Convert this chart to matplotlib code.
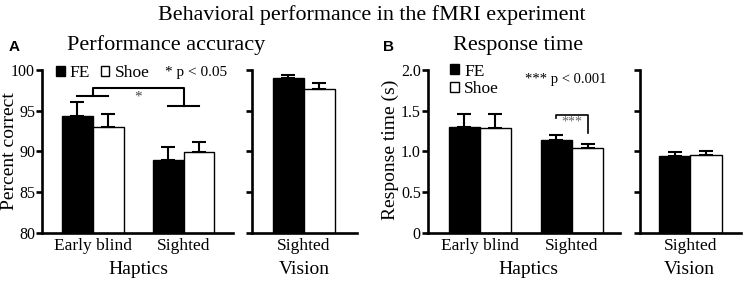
import matplotlib
matplotlib.use("Agg")
import matplotlib.pyplot as plt
from matplotlib.patches import Patch
import numpy as np

plt.rcParams['font.family'] = ['Liberation Serif', 'DejaVu Serif']

# data
haptic_groups = ['Early blind', 'Sighted']
vision_groups = ['Sighted']

acc_fe = [94.3, 89.0]
acc_fe_err = [1.8, 1.6]
acc_shoe = [93.05, 89.9]
acc_shoe_err = [1.55, 1.2]
acc_vis_fe = [98.95]
acc_vis_fe_err = [0.45]
acc_vis_shoe = [97.7]
acc_vis_shoe_err = [0.7]

rt_fe = [1.305, 1.138]
rt_fe_err = [0.153, 0.065]
rt_shoe = [1.286, 1.04]
rt_shoe_err = [0.172, 0.056]
rt_vis_fe = [0.945]
rt_vis_fe_err = [0.045]
rt_vis_shoe = [0.96]
rt_vis_shoe_err = [0.05]

acc_ticks = [80, 85, 90, 95, 100]
acc_ticklabels = ['80', '85', '90', '95', '100']
rt_ticks = [0, 0.5, 1.0, 1.5, 2.0]
rt_ticklabels = ['0', '0.5', '1.0', '1.5', '2.0']

W = 0.34


def style_axes(ax, ylim, ticks, labels, show_labels):
    for s in ['top', 'right']:
        ax.spines[s].set_visible(False)
    for s in ['left', 'bottom']:
        ax.spines[s].set_linewidth(1.9)
    ax.set_ylim(*ylim)
    ax.set_yticks(ticks)
    if show_labels:
        ax.set_yticklabels(labels, fontsize=11.5)
    else:
        ax.set_yticklabels([])
    ax.tick_params(axis='y', direction='out', length=4, width=1.9, pad=1)
    ax.tick_params(axis='x', length=0, labelsize=12.5, pad=4)


def draw_bars(ax, groups, fe, fe_err, shoe, shoe_err):
    x = np.arange(len(groups))
    ax.bar(x - W / 2, fe, W, color='black', edgecolor='black', linewidth=1)
    ax.bar(x + W / 2, shoe, W, color='white', edgecolor='black', linewidth=1)
    ax.errorbar(x - W / 2, fe, yerr=[np.zeros(len(x)), fe_err], fmt='none',
                ecolor='black', elinewidth=1.5, capsize=5, capthick=1.5)
    ax.errorbar(x + W / 2, shoe, yerr=[np.zeros(len(x)), shoe_err], fmt='none',
                ecolor='black', elinewidth=1.5, capsize=5, capthick=1.5)
    ax.set_xticks(x)
    ax.set_xticklabels(groups)


fig = plt.figure(figsize=(7.44, 2.83), dpi=100)

bot, hgt = 0.177, 0.576
axA = fig.add_axes([0.0565, bot, 0.256, hgt])
axAv = fig.add_axes([0.3387, bot, 0.141, hgt])
axB = fig.add_axes([0.575, bot, 0.258, hgt])
axBv = fig.add_axes([0.860, bot, 0.136, hgt])

# Panel A
draw_bars(axA, haptic_groups, acc_fe, acc_fe_err, acc_shoe, acc_shoe_err)
style_axes(axA, (80, 100), acc_ticks, acc_ticklabels, True)
axA.set_xlim(-0.56, 1.54)
draw_bars(axAv, vision_groups, acc_vis_fe, acc_vis_fe_err, acc_vis_shoe, acc_vis_shoe_err)
style_axes(axAv, (80, 100), acc_ticks, acc_ticklabels, False)
axAv.set_xlim(-0.57, 0.58)

# significance bracket A
axA.plot([0, 0, 1, 1], [96.85, 97.75, 97.75, 95.6], color='black', lw=1.5,
         clip_on=False)
axA.plot([-W / 2, W / 2], [96.85, 96.85], color='black', lw=1.5, clip_on=False)
axA.plot([1 - W / 2, 1 + W / 2], [95.6, 95.6], color='black', lw=1.5, clip_on=False)
axA.text(0.5, 96.7, '*', ha='center', va='center', fontsize=11, color='#444444')

leg_kw = dict(frameon=False, fontsize=12.5, handlelength=0.5, handleheight=0.5,
              handletextpad=0.3, borderpad=0.2, borderaxespad=0)
axA.legend(handles=[Patch(facecolor='black', edgecolor='black', label='FE'),
                    Patch(facecolor='white', edgecolor='black', label='Shoe')],
           loc='upper left', bbox_to_anchor=(0.055, 1.05), ncol=2,
           columnspacing=0.6, **leg_kw)
axA.text(0.645, 0.985, '* p < 0.05', transform=axA.transAxes, fontsize=11,
         ha='left', va='center')

# Panel B
draw_bars(axB, haptic_groups, rt_fe, rt_fe_err, rt_shoe, rt_shoe_err)
style_axes(axB, (0, 2.0), rt_ticks, rt_ticklabels, True)
axB.set_xlim(-0.565, 1.52)
draw_bars(axBv, vision_groups, rt_vis_fe, rt_vis_fe_err, rt_vis_shoe, rt_vis_shoe_err)
style_axes(axBv, (0, 2.0), rt_ticks, rt_ticklabels, False)
axBv.set_xlim(-0.55, 0.55)

axB.plot([1 - W / 2, 1 - W / 2, 1 + W / 2, 1 + W / 2], [1.41, 1.45, 1.45, 1.22],
         color='black', lw=1.2)
axB.text(1.0, 1.36, '***', ha='center', va='center', fontsize=10, color='#666666')

axB.legend(handles=[Patch(facecolor='black', edgecolor='black', label='FE'),
                    Patch(facecolor='white', edgecolor='black', label='Shoe')],
           loc='upper left', bbox_to_anchor=(0.1, 1.06), ncol=1,
           labelspacing=0.1, **leg_kw)
axB.text(0.505, 0.94, '*** p < 0.001', transform=axB.transAxes, fontsize=10.5,
         ha='left', va='center')

# y labels placed by hand so they sit at the figure edge like the original
fig.text(0.002, 0.466, 'Percent correct', rotation=90, ha='left', va='center',
         fontsize=14)
fig.text(0.5125, 0.47, 'Response time (s)', rotation=90, ha='left', va='center',
         fontsize=14)

# titles and group labels
fig.text(0.5, 0.947, 'Behavioral performance in the fMRI experiment',
         ha='center', va='center', fontsize=15.8)
fig.text(0.011, 0.834, 'A', ha='left', va='center', fontsize=11,
         fontweight='bold', family='Liberation Sans')
fig.text(0.223, 0.84, 'Performance accuracy', ha='center', va='center', fontsize=16)
fig.text(0.515, 0.834, 'B', ha='left', va='center', fontsize=11,
         fontweight='bold', family='Liberation Sans')
fig.text(0.696, 0.84, 'Response time', ha='center', va='center', fontsize=16)

for xc, lab in [(0.186, 'Haptics'), (0.409, 'Vision'), (0.71, 'Haptics'), (0.926, 'Vision')]:
    fig.text(xc, 0.046, lab, ha='center', va='center', fontsize=14)

fig.savefig('out.png', dpi=100)
